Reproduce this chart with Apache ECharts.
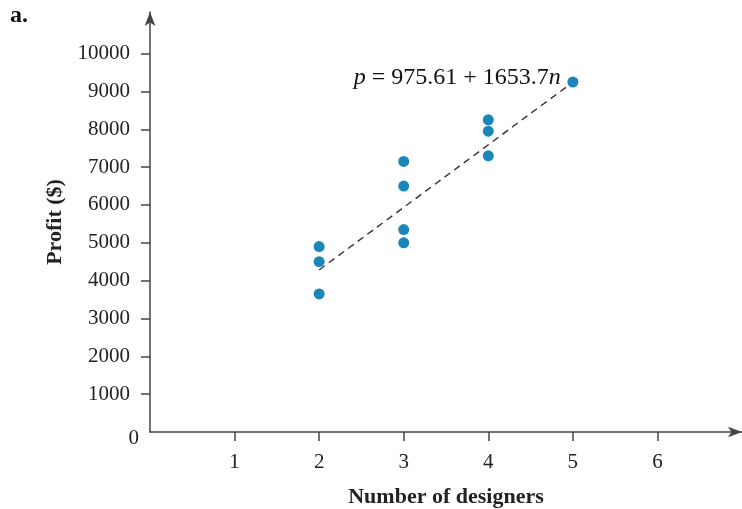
<!DOCTYPE html>
<html>
<head>
<meta charset="utf-8">
<script src="https://cdn.jsdelivr.net/npm/echarts@6/dist/echarts.min.js"></script>
<style>html,body{margin:0;padding:0;background:#fff}#c{width:742px;height:509px}</style>
</head>
<body>
<div id="c"></div>
<script>
// Data
const designers = [2, 2, 2, 3, 3, 3, 3, 4, 4, 4, 5];
const profit = [4900, 4500, 3650, 7150, 6500, 5350, 5000, 8250, 7950, 7300, 9250];
const fitLine = [[2, 4283], [4.94, 9145]];
const xTicks = [1, 2, 3, 4, 5, 6];
const yTicks = [1000, 2000, 3000, 4000, 5000, 6000, 7000, 8000, 9000, 10000];
const equationAnchor = [5, 9250];

const font = '"Liberation Serif", "DejaVu Serif", serif';
const chart = echarts.init(document.getElementById('c'));
const points = designers.map((d, i) => [d, profit[i]]);

chart.setOption({
  animation: false,
  backgroundColor: '#fff',
  grid: { left: 150, top: 12, width: 592, height: 420, containLabel: false, outerBoundsMode: 'none' },
  xAxis: {
    type: 'value', min: 0, max: 7,
    name: 'Number of designers', nameLocation: 'middle', nameGap: 54,
    nameTextStyle: { fontFamily: font, fontWeight: 'bold', fontSize: 22, color: '#222' },
    axisLine: { show: true, symbol: ['none', 'arrow'], symbolSize: [8, 14], lineStyle: { color: '#444', width: 1.5 } },
    axisTick: { show: true, length: 9, inside: false, customValues: xTicks, lineStyle: { color: '#444', width: 1.5 } },
    axisLabel: { customValues: xTicks, margin: 20, fontFamily: font, fontSize: 21, color: '#222' },
    splitLine: { show: false }
  },
  yAxis: {
    type: 'value', min: 0, max: 11100,
    name: 'Profit ($)', nameLocation: 'middle', nameGap: 82, nameRotate: 90,
    nameTextStyle: { fontFamily: font, fontWeight: 'bold', fontSize: 22, color: '#222' },
    axisLine: { show: true, symbol: ['none', 'arrow'], symbolSize: [8, 14], lineStyle: { color: '#444', width: 1.5 } },
    axisTick: { show: true, length: 9, customValues: yTicks, lineStyle: { color: '#444', width: 1.5 } },
    axisLabel: { customValues: yTicks, margin: 20, fontFamily: font, fontSize: 21, color: '#222', formatter: v => String(v) },
    splitLine: { show: false }
  },
  series: [
    {
      type: 'line', data: fitLine, symbol: 'none', z: 1,
      lineStyle: { color: '#333', width: 1.4, type: [7, 5] }
    },
    {
      type: 'scatter', data: points, symbolSize: 11, z: 2,
      itemStyle: { color: '#1a86ba', opacity: 1 }
    }
  ]
});

const origin = chart.convertToPixel({ gridIndex: 0 }, [0, 0]);
const eq = chart.convertToPixel({ gridIndex: 0 }, equationAnchor);
chart.setOption({
  graphic: [
    { type: 'text', left: 10, top: 4, style: { text: 'a.', font: 'bold 24px ' + font, fill: '#111' } },
    { type: 'text', x: origin[0] - 11, y: origin[1] + 6, style: { text: '0', font: '21px ' + font, fill: '#222', align: 'right', verticalAlign: 'middle' } },
    {
      type: 'text', x: eq[0] - 12, y: eq[1] - 4,
      style: {
        text: '{i|p} = 975.61 + 1653.7{i|n}',
        align: 'right', verticalAlign: 'middle',
        font: '24px ' + font, fill: '#111',
        rich: { i: { fontStyle: 'italic', fontFamily: font, fontSize: 24, fill: '#111' } }
      }
    }
  ]
});
</script>
</body>
</html>
